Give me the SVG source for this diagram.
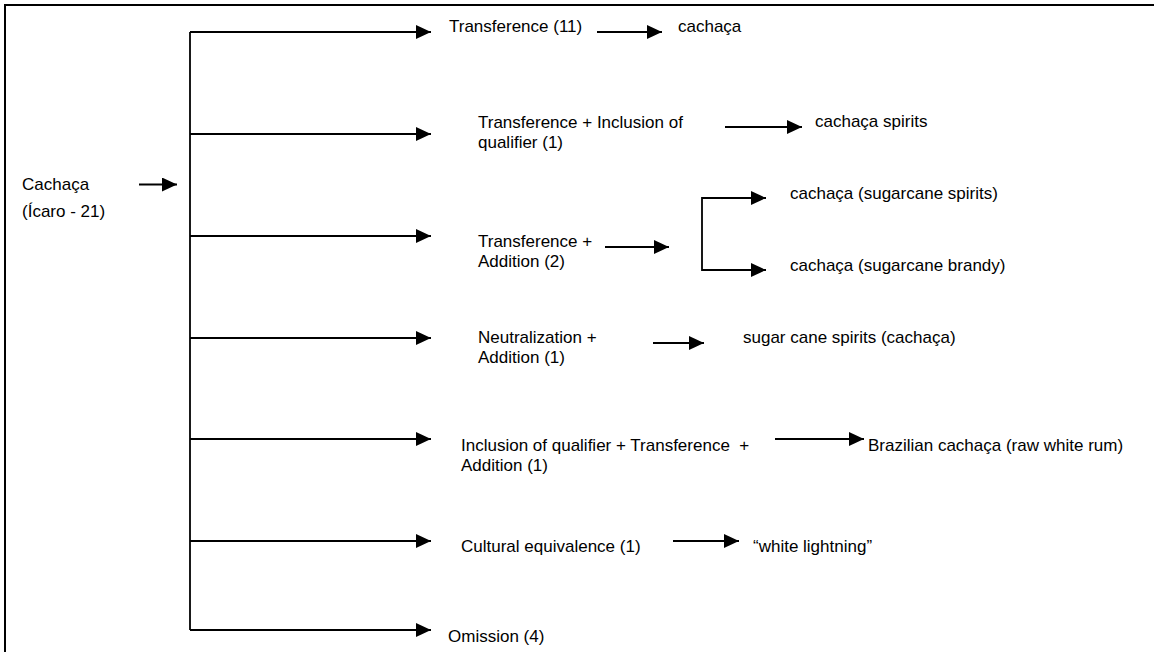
<svg xmlns="http://www.w3.org/2000/svg" width="1154" height="652" viewBox="0 0 1154 652">
<defs>
<marker id="ah" markerUnits="userSpaceOnUse" markerWidth="15" markerHeight="14" refX="15" refY="7" orient="auto">
<path d="M0,0 L15,7 L0,14 z" fill="#000"/>
</marker>
<style>
.t{font-family:"Liberation Sans",Arial,sans-serif;font-size:17px;fill:#000}
.c{stroke:#000;stroke-width:1.8;fill:none}
.a{marker-end:url(#ah)}
</style>
</defs>
<rect x="5" y="5" width="1200" height="700" fill="#fff" stroke="#000" stroke-width="2"/>
<g id="connectors">
<line class="c a" x1="139" y1="184.5" x2="177" y2="184.5"/>
<path class="c" d="M190,32 V630"/>
<line class="c a" x1="190" y1="32" x2="431" y2="32"/>
<line class="c a" x1="190" y1="134" x2="431" y2="134"/>
<line class="c a" x1="190" y1="236" x2="431" y2="236"/>
<line class="c a" x1="190" y1="338" x2="431" y2="338"/>
<line class="c a" x1="190" y1="439" x2="431" y2="439"/>
<line class="c a" x1="190" y1="541" x2="431" y2="541"/>
<line class="c a" x1="190" y1="630" x2="431" y2="630"/>
<line class="c a" x1="597" y1="32" x2="662" y2="32"/>
<line class="c a" x1="725" y1="127" x2="802" y2="127"/>
<line class="c a" x1="605" y1="247" x2="669" y2="247"/>
<path class="c" d="M766,198 H702 V270 H766" marker-end="url(#ah)"/>
<line class="c a" x1="702" y1="198" x2="766" y2="198"/>
<line class="c a" x1="653" y1="343" x2="704" y2="343"/>
<line class="c a" x1="775" y1="439" x2="864" y2="439"/>
<line class="c a" x1="673" y1="541" x2="739" y2="541"/>
</g>
<g id="n-source"><text class="t" x="22" y="190">Cachaça</text><text class="t" x="22" y="217">(Ícaro - 21)</text></g>
<g id="n-transference"><text class="t" x="449" y="32">Transference (11)</text></g>
<g id="n-cachaca"><text class="t" x="678" y="32">cachaça</text></g>
<g id="n-transf-incl"><text class="t" x="478" y="128">Transference + Inclusion of</text><text class="t" x="478" y="148">qualifier (1)</text></g>
<g id="n-cachaca-spirits"><text class="t" x="815" y="127">cachaça spirits</text></g>
<g id="n-transf-add"><text class="t" x="478" y="247">Transference +</text><text class="t" x="478" y="267">Addition (2)</text></g>
<g id="n-sugarcane-spirits"><text class="t" x="790" y="199">cachaça (sugarcane spirits)</text></g>
<g id="n-sugarcane-brandy"><text class="t" x="790" y="271">cachaça (sugarcane brandy)</text></g>
<g id="n-neutral-add"><text class="t" x="478" y="343">Neutralization +</text><text class="t" x="478" y="363">Addition (1)</text></g>
<g id="n-sugar-cane"><text class="t" x="743" y="343">sugar cane spirits (cachaça)</text></g>
<g id="n-incl-transf-add"><text class="t" x="461" y="451" xml:space="preserve">Inclusion of qualifier + Transference  +</text><text class="t" x="461" y="471">Addition (1)</text></g>
<g id="n-brazilian"><text class="t" x="868" y="451">Brazilian cachaça (raw white rum)</text></g>
<g id="n-cultural"><text class="t" x="461" y="552">Cultural equivalence (1)</text></g>
<g id="n-white-lightning"><text class="t" x="753" y="552">“white lightning”</text></g>
<g id="n-omission"><text class="t" x="448" y="642">Omission (4)</text></g>
</svg>
